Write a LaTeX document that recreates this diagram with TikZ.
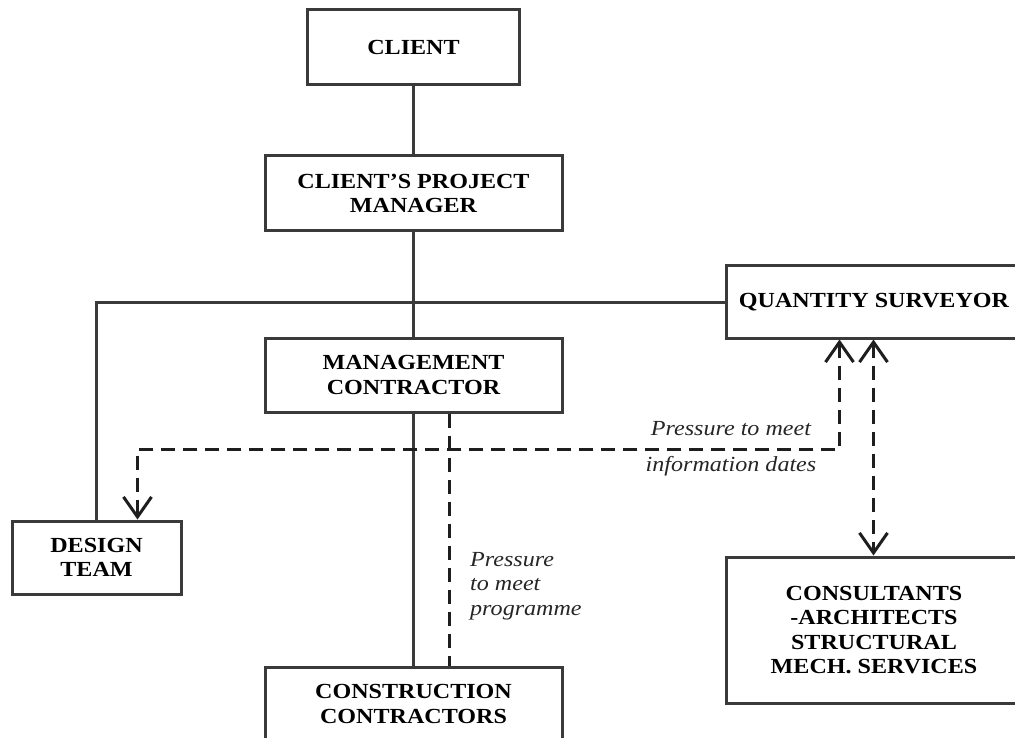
\documentclass[tikz,border=0pt]{standalone}
\usepackage{fontspec}
\setmainfont{Liberation Serif}[FakeStretch=1.12]
\usetikzlibrary{arrows.meta,calc}
\definecolor{boxline}{HTML}{3A3A3A}
\definecolor{dashline}{HTML}{1E1E1E}
\begin{document}
\begin{tikzpicture}[x=1pt,y=-1pt,
  box/.style={draw=boxline,line width=3pt,fill=white,inner sep=0pt,align=center,
    font=\fontsize{21.5}{24.5}\selectfont\bfseries,text=black},
  solidconn/.style={draw=boxline,line width=3pt},
  dashconn/.style={draw=dashline,line width=3pt,dash pattern=on 14pt off 8pt},
  barb/.tip={Straight Barb[length=20pt,width=28pt,line width=3pt]},
  note/.style={font=\fontsize{21.5}{24.5}\selectfont\itshape,text=black!85,inner sep=0pt}]
\useasboundingbox (0,0) rectangle (1015,738);
\clip (0,0) rectangle (1015,738);
\fill[white] (0,0) rectangle (1015,738);

% nodes
\node[box,minimum width=212pt,minimum height=75pt] (client) at (413.5,47.5) {CLIENT};
\node[box,minimum width=297pt,minimum height=75pt] (cpm) at (413.5,193.5) {CLIENT'S PROJECT\\MANAGER};
\node[box,minimum width=297pt,minimum height=74pt] (mc) at (413.5,375) {MANAGEMENT\\CONTRACTOR};
\node[box,minimum width=297pt,minimum height=78pt,anchor=north] (cc) at (413.5,666) {};
\node[font=\fontsize{21.5}{24.5}\selectfont\bfseries,align=center,inner sep=0pt] (cctext) at (413.5,704) {CONSTRUCTION\\CONTRACTORS};
\node[box,minimum width=296pt,minimum height=72pt] (qs) at (874,302) {QUANTITY SURVEYOR};
\node[box,minimum width=296pt,minimum height=146pt] (cons) at (874,630) {CONSULTANTS\\-ARCHITECTS\\STRUCTURAL\\MECH. SERVICES};
\node[box,minimum width=169pt,minimum height=73pt] (dt) at (96.5,557.5) {DESIGN\\TEAM};

% helper coordinates
\path (qs.south west) ++(115,0) coordinate (qa);
\path (qs.south west) ++(149,0) coordinate (qb);
\path (dt.north west) ++(127,0) coordinate (dta);
\path (mc.south west) ++(186,0) coordinate (mca);

% solid connectors
\draw[solidconn] (client.south) -- (cpm.north);
\draw[solidconn] (cpm.south) -- (mc.north);
\draw[solidconn] (mc.south) -- (cc.north);
\draw[solidconn] (qs.west) -- (qs.west -| dt.north) -- (dt.north);

% dashed connectors
\draw[dashconn,barb-barb] (qa) -- ++(0,110) coordinate (qcorner) -| (dta);
\draw[dashconn,barb-barb] (qb) -- (qb |- cons.north);
\draw[dashconn] (mca) -- (mca |- cc.north);

% labels
\node[note] (lab1) at (731,429) {Pressure to meet};
\node[note] (lab2) at (731,466) {information dates};
\node[note,align=left,anchor=north west] (lab3) at (470,552) {Pressure\\to meet\\programme};
\end{tikzpicture}
\end{document}
